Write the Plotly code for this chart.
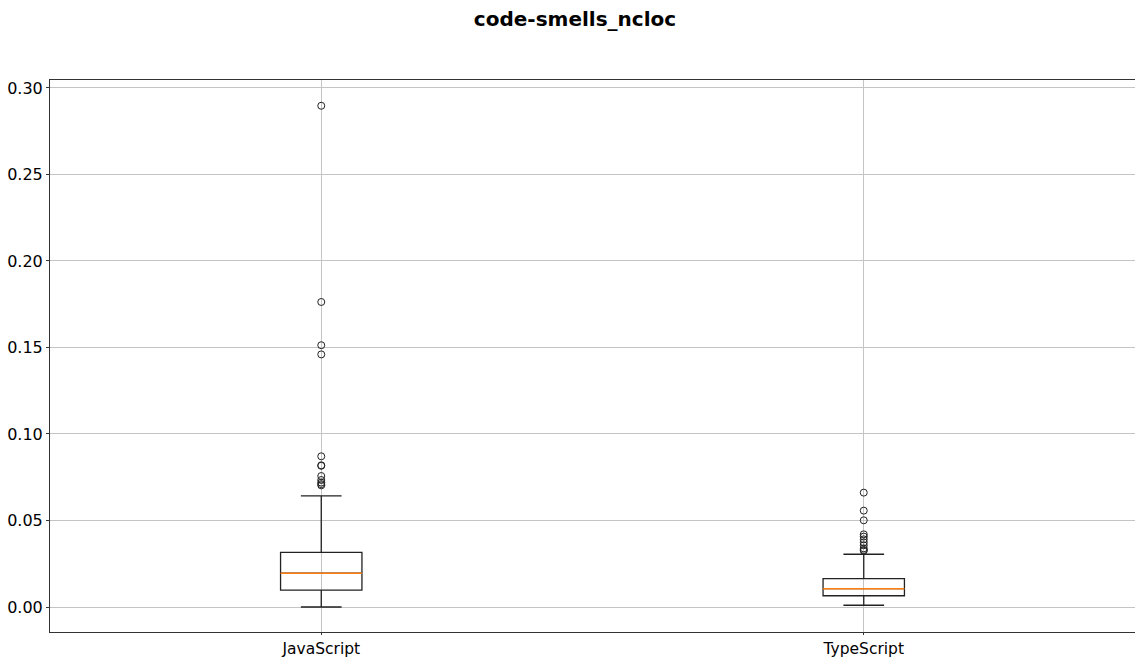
import plotly.graph_objects as go

categories = ["JavaScript", "TypeScript"]
positions = [1, 2]
q1 = [0.0097, 0.0065]
median = [0.0195, 0.0106]
q3 = [0.0316, 0.0164]
lower_whisker = [0.0, 0.0010]
upper_whisker = [0.0642, 0.0305]
outliers_js = [0.2897, 0.1763, 0.1513, 0.1460, 0.0871, 0.0819, 0.0816,
               0.0757, 0.0734, 0.0719, 0.0710, 0.0703]
outliers_ts = [0.0661, 0.0557, 0.0501, 0.0420, 0.0407, 0.0391, 0.0374,
               0.0357, 0.0339, 0.0330, 0.0325]
outliers = [outliers_js, outliers_ts]
y_ticks = [0.00, 0.05, 0.10, 0.15, 0.20, 0.25, 0.30]

box_w = 0.15
fig = go.Figure()
for i, pos in enumerate(positions):
    fig.add_trace(go.Box(
        x=[pos], q1=[q1[i]], median=[median[i]], q3=[q3[i]],
        lowerfence=[lower_whisker[i]], upperfence=[upper_whisker[i]],
        width=box_w, whiskerwidth=0.5,
        fillcolor="rgba(255,255,255,0)",
        line=dict(color="#222222", width=1.3),
        boxpoints=False, showlegend=False, hoverinfo="skip",
    ))
for i, pos in enumerate(positions):
    fig.add_trace(go.Scatter(
        x=[pos - box_w / 2, pos + box_w / 2], y=[median[i], median[i]],
        mode="lines", line=dict(color="#ff7f0e", width=1.5),
        showlegend=False, hoverinfo="skip",
    ))
    fig.add_trace(go.Scatter(
        x=[pos] * len(outliers[i]), y=outliers[i], mode="markers",
        marker=dict(symbol="circle-open", color="#222222", size=7,
                    line=dict(width=1)),
        showlegend=False,
    ))

fig.update_layout(
    width=1135, height=657,
    margin=dict(l=50, r=0, t=80, b=25, autoexpand=False),
    paper_bgcolor="white", plot_bgcolor="white",
    font=dict(family="DejaVu Sans", size=16, color="black"),
    title=dict(text="<b>code-smells_ncloc</b>", x=0.5066, xanchor="center",
               y=0.971, yanchor="middle", font=dict(size=20)),
    xaxis=dict(range=[0.5, 2.5], tickvals=positions, ticktext=categories,
               tickfont=dict(size=15.5),
               showgrid=True, gridcolor="#c4c4c4", gridwidth=0.8,
               showline=True, linecolor="#333333", linewidth=1, mirror=True,
               ticks="outside", ticklen=2, tickcolor="#333333",
               zeroline=False, automargin=False),
    yaxis=dict(range=[-0.01445, 0.3046], tickvals=y_ticks,
               tickformat=".2f",
               showgrid=True, gridcolor="#c4c4c4", gridwidth=0.8,
               showline=True, linecolor="#333333", linewidth=1, mirror=True,
               ticks="outside", ticklen=3, tickcolor="#333333",
               zeroline=False, automargin=False),
)
fig.write_html(
    "out.html",
    config={"displayModeBar": False},
    post_script="document.body.style.margin='0';document.body.style.overflow='hidden';",
)
